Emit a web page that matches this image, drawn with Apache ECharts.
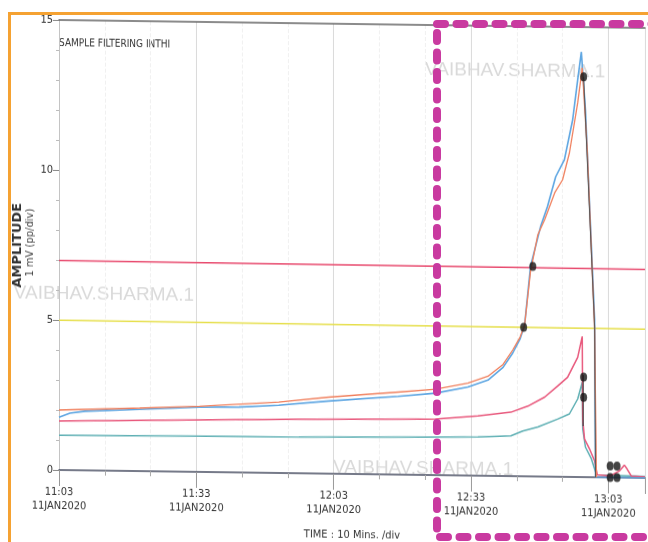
<!DOCTYPE html>
<html>
<head>
<meta charset="utf-8">
<script src="https://cdn.jsdelivr.net/npm/echarts@6/dist/echarts.min.js"></script>
<style>
  html, body { margin: 0; padding: 0; background: #ffffff; }
  #wrap { position: relative; width: 648px; height: 542px; overflow: hidden; background: #fff; }
  #chart { position: absolute; left: 0; top: 0; width: 648px; height: 542px;
           transform: skewY(0.777deg); transform-origin: 59px 0; }
  #overlay { position: absolute; left: 0; top: 0; width: 648px; height: 542px; pointer-events: none; }
</style>
</head>
<body>
<div id="wrap"><div id="chart"></div><div id="overlay"></div></div>
<script>
// ---- data (x = minutes after 11:03 on 11JAN2020, y = amplitude in mV) ----
const timeLabels = ['11:03', '11:33', '12:03', '12:33', '13:03'];
const dateLabel = '11JAN2020';
const yTicks = [0, 5, 10, 15];

const redLevel = [[0, 6.98], [128, 6.95]];
const yellowLevel = [[0, 4.99], [128, 4.96]];

const blueCurve = [
  [0, 1.76], [2.4, 1.90], [5.7, 1.97], [17.6, 2.06], [30.7, 2.16], [39.3, 2.18],
  [48.0, 2.26], [58.9, 2.42], [74.1, 2.61], [82.2, 2.73], [89.3, 2.95], [93.7, 3.19],
  [97.0, 3.62], [99.1, 4.10], [100.7, 4.57], [101.7, 5.03], [103.0, 7.0], [105.2, 8.33],
  [106.7, 9.0], [108.5, 10.0], [110.4, 10.57], [112.2, 11.9], [113.3, 13.24], [114.1, 14.17],
  [115.0, 12.24], [117.0, 5.26], [117.2, 0.0], [128, 0.0]
];
const orangeCurve = [
  [0, 2.0], [17.6, 2.10], [30.7, 2.19], [48.0, 2.36], [58.9, 2.55], [74.1, 2.75],
  [82.2, 2.86], [89.3, 3.08], [93.7, 3.32], [97.0, 3.72], [99.1, 4.20], [100.7, 4.63],
  [101.7, 5.03], [103.0, 6.83], [104.6, 8.06], [106.1, 8.57], [108.3, 9.47], [110.0, 9.9],
  [111.5, 10.8], [113.3, 12.47], [114.3, 13.64], [115.4, 10.9], [117.0, 4.93], [117.4, 0.0]
];
const pinkCurve = [
  [0, 1.63], [30.7, 1.73], [52.4, 1.80], [82.2, 1.87], [91.5, 1.99], [98.7, 2.13],
  [102.4, 2.34], [106.1, 2.65], [108.9, 3.02], [111.1, 3.32], [113.3, 3.99], [114.3, 4.69],
  [114.4, 1.93], [114.8, 1.27], [115.9, 0.94], [117.0, 0.54], [117.6, 0.08], [120.4, 0.05],
  [122.4, 0.22], [123.5, 0.42], [124.1, 0.29], [125.0, 0.06], [128, 0.03]
];
const tealCurve = [
  [0, 1.16], [30.7, 1.19], [52.4, 1.21], [82.2, 1.27], [91.5, 1.29], [98.7, 1.34],
  [101.3, 1.51], [104.6, 1.65], [108.9, 1.92], [111.5, 2.10], [113.3, 2.60], [114.3, 3.16],
  [114.4, 1.6], [115.0, 1.0], [116.3, 0.61], [117.4, 0.08], [128, 0.05]
];
const darkDescent = [[114.6, 13.34], [117.0, 5.0], [117.2, 0.0]];
const darkDrop = [[114.5, 3.4], [114.5, 1.7]];
const markerDots = [
  [101.5, 4.97], [103.5, 7.0], [114.6, 13.34], [114.6, 3.33], [114.6, 2.66],
  [120.4, 0.38], [121.9, 0.38], [120.4, 0.0], [121.9, 0.0]
];

const narrow = "'Liberation Sans Narrow', 'DejaVu Sans Condensed', 'Liberation Sans', sans-serif";
const wmColor = 'rgba(170,170,170,0.45)';

const chart = echarts.init(document.getElementById('chart'), null, { renderer: 'canvas' });
chart.setOption({
  backgroundColor: 'transparent',
  animation: false,
  grid: { left: 59, right: 0, top: 20, bottom: 71 },
  xAxis: [{
    type: 'value', min: 0, max: 128, interval: 30,
    name: 'TIME : 10 Mins. /div', nameLocation: 'middle', nameGap: 56,
    nameTextStyle: { color: '#333', fontSize: 11, fontFamily: narrow, padding: [0, 0, 0, 0] },
    axisLine: { show: true, lineStyle: { color: '#4a4f63', width: 1.5 } },
    axisTick: { show: true, length: 16, lineStyle: { color: '#999', width: 1 } },
    minorTick: { show: true, splitNumber: 3, length: 5, lineStyle: { color: '#aaa' } },
    splitLine: { show: true, lineStyle: { color: '#dadada', width: 1 } },
    minorSplitLine: { show: true, lineStyle: { color: '#f0f0f0', type: 'dashed' } },
    axisLabel: {
      margin: 15, color: '#333', fontSize: 11, fontFamily: narrow, lineHeight: 14,
      formatter: function (v) {
        if (v % 30 !== 0) return '';
        const t = timeLabels[v / 30];
        return t ? t + '\n' + dateLabel : '';
      }
    }
  }, {
    type: 'value', position: 'top', min: 0, max: 128,
    axisLine: { show: true, lineStyle: { color: '#666', width: 1.5 } },
    axisTick: { show: false }, axisLabel: { show: false }, splitLine: { show: false }
  }],
  yAxis: {
    type: 'value', min: 0, max: 15, interval: 5,
    axisLine: { show: true, lineStyle: { color: '#c4c4c4', width: 1 } },
    axisTick: { show: true, length: 6, lineStyle: { color: '#888' } },
    minorTick: { show: true, splitNumber: 5, length: 3, lineStyle: { color: '#bbb' } },
    splitLine: { show: false },
    axisLabel: {
      margin: 6, color: '#333', fontSize: 11, fontFamily: narrow,
      formatter: function (v) { return yTicks.indexOf(v) >= 0 ? String(v) : ''; }
    }
  },
  graphic: [
    { type: 'text', left: 59, top: 38, style: { text: 'SAMPLE FILTERING INTHI', fill: '#333', font: '10px ' + narrow } },
    { type: 'text', x: 18, y: 246, rotation: Math.PI / 2, style: { text: 'AMPLITUDE', fill: '#333', font: 'bold 13px "DejaVu Sans", sans-serif', align: 'center', verticalAlign: 'middle' } },
    { type: 'text', x: 30, y: 243, rotation: Math.PI / 2, style: { text: '1 mV (pp/div)', fill: '#444', font: '10px "DejaVu Sans", sans-serif', align: 'center', verticalAlign: 'middle' } },
    { type: 'text', x: 425, y: 65, style: { text: 'VAIBHAV.SHARMA.1', fill: wmColor, font: '19px "Liberation Sans", sans-serif', align: 'left', verticalAlign: 'middle' }, z: -1 },
    { type: 'text', x: 194, y: 294, style: { text: 'VAIBHAV.SHARMA.1', fill: wmColor, font: '19px "Liberation Sans", sans-serif', align: 'right', verticalAlign: 'middle' }, z: -1 },
    { type: 'text', x: 333, y: 464, style: { text: 'VAIBHAV.SHARMA.1', fill: wmColor, font: '19px "Liberation Sans", sans-serif', align: 'left', verticalAlign: 'middle' }, z: -1 }
  ],
  series: [
    { type: 'line', name: 'Level A', data: redLevel, symbol: 'none', lineStyle: { color: '#e84a6e', width: 1.5 } },
    { type: 'line', name: 'Level B', data: yellowLevel, symbol: 'none', lineStyle: { color: '#e6df4c', width: 1.5 } },
    { type: 'line', name: 'Teal', data: tealCurve, symbol: 'none', lineStyle: { color: '#5fb0b4', width: 1.5 } },
    { type: 'line', name: 'Pink', data: pinkCurve, symbol: 'none', lineStyle: { color: '#e8587c', width: 1.5 } },
    { type: 'line', name: 'Blue', data: blueCurve, symbol: 'none', lineStyle: { color: '#5ea6e2', width: 1.6 } },
    { type: 'line', name: 'Orange', data: orangeCurve, symbol: 'none', lineStyle: { color: '#f0805e', width: 1.3 } },
    { type: 'line', name: 'Descent', data: darkDescent, symbol: 'none', lineStyle: { color: '#555', width: 1 } },
    { type: 'line', name: 'Drop', data: darkDrop, symbol: 'none', lineStyle: { color: '#444', width: 1.2 } },
    { type: 'scatter', name: 'Markers', data: markerDots, symbol: 'circle', symbolSize: [7, 9], clip: false,
      itemStyle: { color: '#151515' }, z: 5 }
  ]
});

const overlay = echarts.init(document.getElementById('overlay'), null, { renderer: 'canvas' });
overlay.setOption({
  backgroundColor: 'transparent',
  animation: false,
  graphic: [
    { type: 'polyline', shape: { points: [[9.5, 542], [9.5, 13.5], [648, 13.5]] },
      style: { stroke: '#f5a232', lineWidth: 3, fill: null } },
    { type: 'rect', shape: { x: 437, y: 24, width: 217, height: 513 },
      style: { stroke: '#c93aa0', lineWidth: 8, fill: null, lineDash: [8, 11.5], lineCap: 'round' } }
  ]
});
</script>
</body>
</html>
